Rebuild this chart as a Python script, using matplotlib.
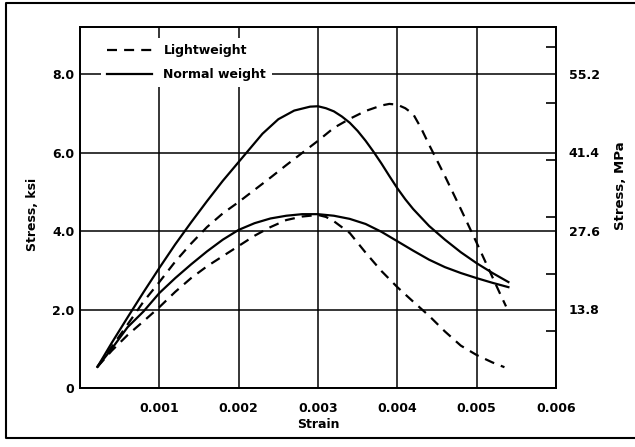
import matplotlib
matplotlib.use("Agg")
import matplotlib.pyplot as plt
from matplotlib.lines import Line2D

plt.rcParams['font.family'] = ['DejaVu Sans']
plt.rcParams['font.weight'] = 'bold'
plt.rcParams['axes.labelweight'] = 'bold'
plt.rcParams['font.size'] = 9

# Normal weight, higher strength
nh_strain = [0.00022, 0.0004, 0.0006, 0.0008, 0.001, 0.0012, 0.0014, 0.0016, 0.0018, 0.002,
             0.0021, 0.0023, 0.0025, 0.0027, 0.0029, 0.003, 0.0031, 0.0032, 0.0033, 0.0034,
             0.0035, 0.0036, 0.0037, 0.0038, 0.0039, 0.004, 0.0041, 0.0042, 0.0044, 0.0046,
             0.0048, 0.005, 0.0052, 0.0054]
nh_stress = [0.54, 1.15, 1.80, 2.44, 3.06, 3.66, 4.22, 4.76, 5.28, 5.76,
             6.00, 6.48, 6.85, 7.07, 7.17, 7.18, 7.13, 7.05, 6.92, 6.76,
             6.55, 6.30, 6.02, 5.72, 5.40, 5.09, 4.81, 4.56, 4.13, 3.78,
             3.46, 3.18, 2.93, 2.70]

# Lightweight, higher strength
lh_strain = [0.00022, 0.0004, 0.0006, 0.0008, 0.001, 0.0012, 0.0014, 0.0016, 0.0018, 0.002,
             0.0022, 0.0024, 0.0026, 0.0028, 0.003, 0.0032, 0.0034, 0.0036, 0.0038, 0.0039,
             0.004, 0.0041, 0.0042, 0.0043, 0.0044, 0.0045, 0.0046, 0.0047, 0.0048, 0.0049,
             0.005, 0.0051, 0.0052, 0.0053, 0.00537]
lh_stress = [0.54, 1.05, 1.62, 2.20, 2.70, 3.22, 3.68, 4.10, 4.45, 4.74,
             5.05, 5.36, 5.68, 5.99, 6.30, 6.63, 6.86, 7.06, 7.20, 7.24,
             7.22, 7.13, 6.98, 6.62, 6.20, 5.80, 5.40, 4.98, 4.56, 4.13,
             3.70, 3.26, 2.82, 2.38, 2.08]

# Normal weight, lower strength
nl_strain = [0.00022, 0.0004, 0.0006, 0.0008, 0.001, 0.0012, 0.0014, 0.0016, 0.0018, 0.002,
             0.0022, 0.0024, 0.0026, 0.0028, 0.003, 0.0032, 0.0034, 0.0036, 0.0038, 0.004,
             0.0042, 0.0044, 0.0046, 0.0048, 0.005, 0.0052, 0.0054]
nl_stress = [0.54, 1.00, 1.55, 1.95, 2.42, 2.80, 3.15, 3.48, 3.78, 4.03,
             4.20, 4.32, 4.39, 4.43, 4.43, 4.39, 4.31, 4.18, 3.98, 3.74,
             3.50, 3.27, 3.08, 2.93, 2.80, 2.68, 2.57]

# Lightweight, lower strength
ll_strain = [0.00022, 0.0004, 0.0006, 0.0008, 0.001, 0.0012, 0.0014, 0.0016, 0.0018, 0.002,
             0.0022, 0.0024, 0.0026, 0.0028, 0.003, 0.0031, 0.0032, 0.0034, 0.0036, 0.0038,
             0.004, 0.0042, 0.0044, 0.0046, 0.0048, 0.005, 0.0052, 0.00535]
ll_stress = [0.54, 0.95, 1.35, 1.70, 2.06, 2.45, 2.80, 3.10, 3.36, 3.62,
             3.88, 4.10, 4.28, 4.37, 4.41, 4.36, 4.25, 3.95, 3.45, 2.98,
             2.57, 2.20, 1.84, 1.44, 1.08, 0.84, 0.65, 0.53]

x_ticks = [0.001, 0.002, 0.003, 0.004, 0.005, 0.006]
x_labels = ['0.001', '0.002', '0.003', '0.004', '0.005', '0.006']
ksi_ticks = [0, 2, 4, 6, 8]
ksi_labels = ['0', '2.0', '4.0', '6.0', '8.0']
mpa_ticks = [13.8, 27.6, 41.4, 55.2]
mpa_minor = [10, 20, 30, 40, 50, 60]

fig = plt.figure(figsize=(6.35, 4.47), dpi=100)
ax = fig.add_axes([0.126, 0.132, 0.7496, 0.8076])

dash = (4.5, 3.2)
ax.plot(nh_strain, nh_stress, color='black', lw=1.6, label='Normal weight')
ax.plot(nl_strain, nl_stress, color='black', lw=1.6)
ax.plot(lh_strain, lh_stress, color='black', lw=1.6, dashes=dash, label='Lightweight')
ax.plot(ll_strain, ll_stress, color='black', lw=1.6, dashes=dash)

ax.set_xlim(0, 0.006)
ax.set_ylim(0, 9.2)
ax.set_xticks(x_ticks)
ax.set_xticklabels(x_labels)
ax.set_yticks(ksi_ticks)
ax.set_yticklabels(ksi_labels)
ax.tick_params(axis='x', length=0, pad=10)
ax.tick_params(axis='y', length=0, pad=4)
ax.grid(True, color='black', lw=1.1)
for s in ax.spines.values():
    s.set_linewidth(1.3)

ax.set_xlabel('Strain', labelpad=2)
ax.set_ylabel('Stress, ksi')
ax.yaxis.set_label_coords(-0.086, 0.48)

handles, labels = ax.get_legend_handles_labels()
leg = ax.legend(handles[::-1], labels[::-1], loc='upper left', bbox_to_anchor=(0.044, 0.969),
                borderaxespad=0, frameon=True, fancybox=False, facecolor='white',
                edgecolor='none', framealpha=1, handlelength=3.6, handletextpad=0.9,
                labelspacing=0.85, borderpad=0.5)

ax2 = ax.twinx()
ax2.set_ylim(0, 9.2 * 6.895)
ax2.set_yticks(mpa_ticks)
ax2.set_yticklabels([f'{v:.1f}' for v in mpa_ticks])
ax2.set_yticks(mpa_minor, minor=True)
ax2.tick_params(axis='y', which='major', length=0, pad=9)
ax2.tick_params(axis='y', which='minor', direction='in', length=7, width=1.2)
for s in ax2.spines.values():
    s.set_linewidth(1.3)
ax2.set_ylabel('Stress, MPa', fontsize=9.5)
ax2.yaxis.set_label_coords(1.122, 0.56)

# outer frame: top, left, bottom only (right side runs off the picture)
fig.add_artist(Line2D([1.0, 0.009, 0.009, 1.0], [0.993, 0.993, 0.02, 0.02],
                      transform=fig.transFigure, color='black', lw=1.5))

fig.savefig('out.png', dpi=100)
